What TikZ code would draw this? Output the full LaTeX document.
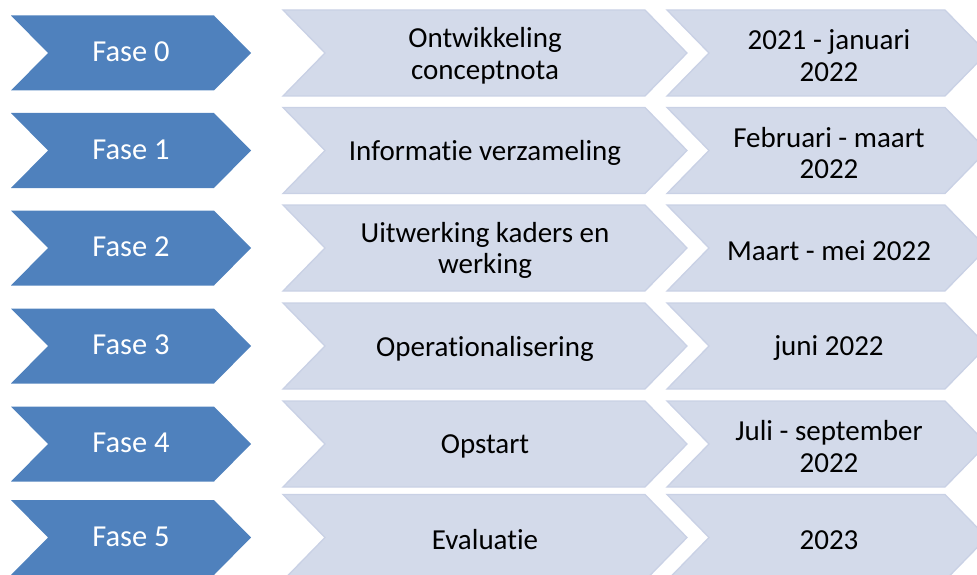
\documentclass[tikz,border=0pt]{standalone}
\usepackage{fontspec}
\setmainfont{Carlito}[RawFeature={-liga;-clig;-calt;-dlig}]
\definecolor{phaseblue}{RGB}{79,129,189}
\definecolor{lightfill}{RGB}{211,218,234}
\definecolor{lightedge}{RGB}{201,209,229}

\begin{document}
\begin{tikzpicture}[x=1pt,y=-1pt,
  % chevron outline: left, right, centre y, half height, point depth
  chevron/.style n args={5}{insert path={
    (#1,#3-#4) -- (#2-#5,#3-#4) -- (#2,#3) -- (#2-#5,#3+#4)
    -- (#1,#3+#4) -- (#1+#5,#3) -- cycle}},
  phase/.style={fill=phaseblue,draw=none},
  band/.style={fill=lightfill,draw=lightedge,line width=1.3pt,line join=miter},
  phasetext/.style={text=white,align=center,inner sep=0pt,
    font=\fontsize{30.5}{34}\selectfont},
  bandtext/.style={text=black,align=center,inner sep=0pt,
    font=\fontsize{29}{31.6}\selectfont}]
\useasboundingbox (0,0) rectangle (977,575);
\clip (0,0) rectangle (977,575);
\foreach \i/\yc/\fase/\desc/\date in {
  0/53/{Fase 0}/{Ontwikkeling\\conceptnota}/{2021 - januari\\2022},
  1/150.5/{Fase 1}/{Informatie verzameling}/{Februari - maart\\2022},
  2/248/{Fase 2}/{Uitwerking kaders en\\werking}/{Maart - mei 2022},
  3/346/{Fase 3}/{Operationalisering}/{juni 2022},
  4/444/{Fase 4}/{Opstart}/{Juli - september\\2022},
  5/537.5/{Fase 5}/{Evaluatie}/{2023}}{
  \path[phase, chevron={11}{251}{\yc}{37.5}{37}];
  \path[band, chevron={283}{687}{\yc}{43}{42}];
  \path[band, chevron={667}{987}{\yc}{43}{42}];
  \node[phasetext] (fase\i) at (131,\yc-1) {\fase};
  \node[bandtext] (desc\i) at (485,\yc+2.5) {\desc};
  \node[bandtext] (date\i) at (829,\yc+2.5) {\date};
}
\end{tikzpicture}
\end{document}
